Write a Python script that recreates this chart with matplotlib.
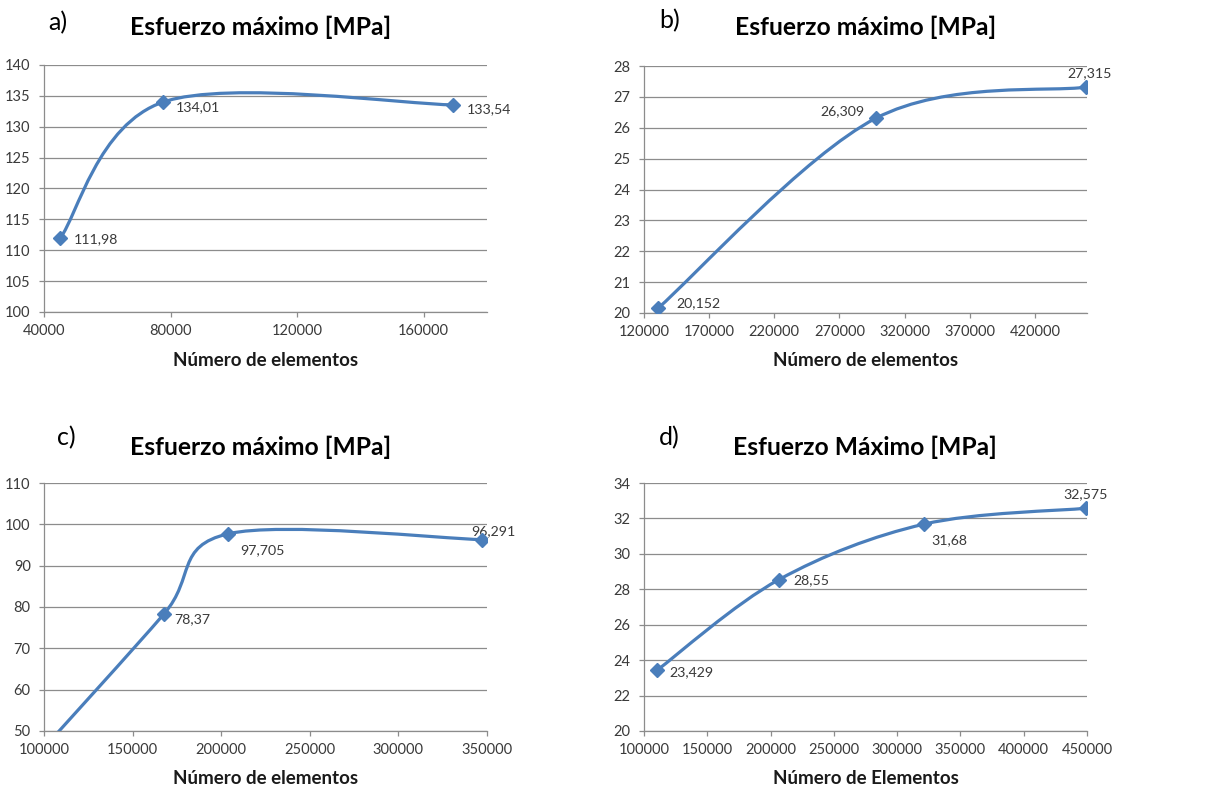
import matplotlib.pyplot as plt
import numpy as np
from matplotlib.path import Path
from matplotlib.patches import PathPatch

# panel a
a_x = [45150, 77700, 169400]
a_y = [111.98, 134.01, 133.54]
a_labels = ["111,98", "134,01", "133,54"]

# panel b
b_x = [130700, 298000, 459000]
b_y = [20.152, 26.309, 27.315]
b_labels = ["20,152", "26,309", "27,315"]

# panel c (first point lies below the visible range)
c_x = [98000, 167800, 203900, 347400]
c_y = [45.0, 78.37, 97.705, 96.291]
c_labels = [None, "78,37", "97,705", "96,291"]

# panel d
d_x = [110300, 206700, 321400, 449300]
d_y = [23.429, 28.55, 31.68, 32.575]
d_labels = ["23,429", "28,55", "31,68", "32,575"]

W, H = 1209, 790
BLUE = "#4a7ebb"
GRID = "#8c8c8c"
TXT = "#3a3a3a"
FONT = "Lato"


def px(x, y):
    return x / W, 1 - y / H


def smooth_path(xs, ys):
    # excel-like smoothed line: cubic bezier with catmull-rom control points
    p = np.column_stack([xs, ys]).astype(float)
    n = len(p)
    verts = [p[0]]
    codes = [Path.MOVETO]
    for i in range(n - 1):
        prev = p[i - 1] if i > 0 else p[i]
        nxt = p[i + 2] if i + 2 < n else p[i + 1]
        c1 = p[i] + (p[i + 1] - prev) / 6
        c2 = p[i + 1] - (nxt - p[i]) / 6
        verts += [c1, c2, p[i + 1]]
        codes += [Path.CURVE4] * 3
    return Path(verts, codes)


def panel(rect, xs, ys, labels, offsets, xlim, xticks, ylim, yticks):
    ax = fig.add_axes(rect)
    ax.set_xlim(*xlim)
    ax.set_ylim(*ylim)
    ax.set_xticks(xticks)
    ax.set_yticks(yticks)
    ax.set_xticklabels([str(t) for t in xticks])
    ax.set_yticklabels([str(t) for t in yticks])
    for s in ("top", "right"):
        ax.spines[s].set_visible(False)
    for s in ("left", "bottom"):
        ax.spines[s].set_color(GRID)
        ax.spines[s].set_linewidth(0.9)
    ax.grid(axis="y", color=GRID, lw=0.9)
    ax.set_axisbelow(True)
    ax.tick_params(direction="out", length=3.6, width=0.9, color=GRID,
                   labelsize=10.5, labelcolor=TXT)
    ax.tick_params(axis="y", pad=6)
    ax.tick_params(axis="x", pad=5)
    for lab in ax.get_xticklabels() + ax.get_yticklabels():
        lab.set_family(FONT)
    ax.add_patch(PathPatch(smooth_path(xs, ys), fill=False,
                           edgecolor=BLUE, lw=2.3, zorder=3))
    ax.plot(xs, ys, ls="none", marker="D", ms=7.5, color=BLUE, zorder=4)
    for x, y, t, (dx, dy, ha) in zip(xs, ys, labels, offsets):
        if t is None:
            continue
        ax.annotate(t, (x, y), xytext=(dx * 0.72, dy * 0.72),
                    textcoords="offset points", ha=ha, va="center",
                    fontsize=10.2, color=TXT, family=FONT,
                    annotation_clip=False)
    return ax


fig = plt.figure(figsize=(W / 100, H / 100), dpi=100)

panel([44 / W, 1 - 312 / H, 443 / W, 247 / H], a_x, a_y, a_labels,
      [(13, -1, "left"), (12, -5, "left"), (13, -4, "left")],
      (40000, 180000), [40000, 80000, 120000, 160000],
      (100, 140), list(range(100, 141, 5)))

panel([644 / W, 1 - 313 / H, 443 / W, 247 / H], b_x, b_y, b_labels,
      [(18, 5, "left"), (-11, 7, "right"), (4, 14, "center")],
      (120000, 460000), list(range(120000, 420001, 50000)),
      (20, 28), list(range(20, 29)))

panel([44 / W, 1 - 731 / H, 443 / W, 248 / H], c_x, c_y, c_labels,
      [(0, 0, "left"), (10, -5, "left"), (12, -16, "left"),
       (11, 9, "center")],
      (100000, 350000), list(range(100000, 350001, 50000)),
      (50, 110), list(range(50, 111, 10)))

panel([644 / W, 1 - 731 / H, 443 / W, 248 / H], d_x, d_y, d_labels,
      [(12, -2, "left"), (14, -1, "left"), (7, -16, "left"),
       (-1, 14, "center")],
      (100000, 450000), list(range(100000, 450001, 50000)),
      (20, 34), list(range(20, 35, 2)))

titles = ["Esfuerzo máximo [MPa]", "Esfuerzo máximo [MPa]",
          "Esfuerzo máximo [MPa]", "Esfuerzo Máximo [MPa]"]
tags = ["a)", "b)", "c)", "d)"]
xlabels = ["Número de elementos", "Número de elementos",
           "Número de elementos", "Número de Elementos"]
title_pos = [(261, 27), (866, 27), (261, 447), (865, 447)]
tag_pos = [(48, 23), (659, 21), (57, 438), (659, 438)]
xlab_pos = [(266, 360), (866, 360), (266, 778), (866, 778)]

for t, (x, y) in zip(titles, title_pos):
    fig.text(*px(x, y), t, ha="center", va="center", fontsize=17.7,
             fontweight="bold", family=FONT)
for t, (x, y) in zip(tags, tag_pos):
    fig.text(*px(x, y), t, ha="left", va="center", fontsize=18,
             family=FONT)
for t, (x, y) in zip(xlabels, xlab_pos):
    fig.text(*px(x, y), t, ha="center", va="center", fontsize=13.5,
             fontweight="bold", family=FONT, color="#1a1a1a")

fig.savefig("out.png", dpi=100)
